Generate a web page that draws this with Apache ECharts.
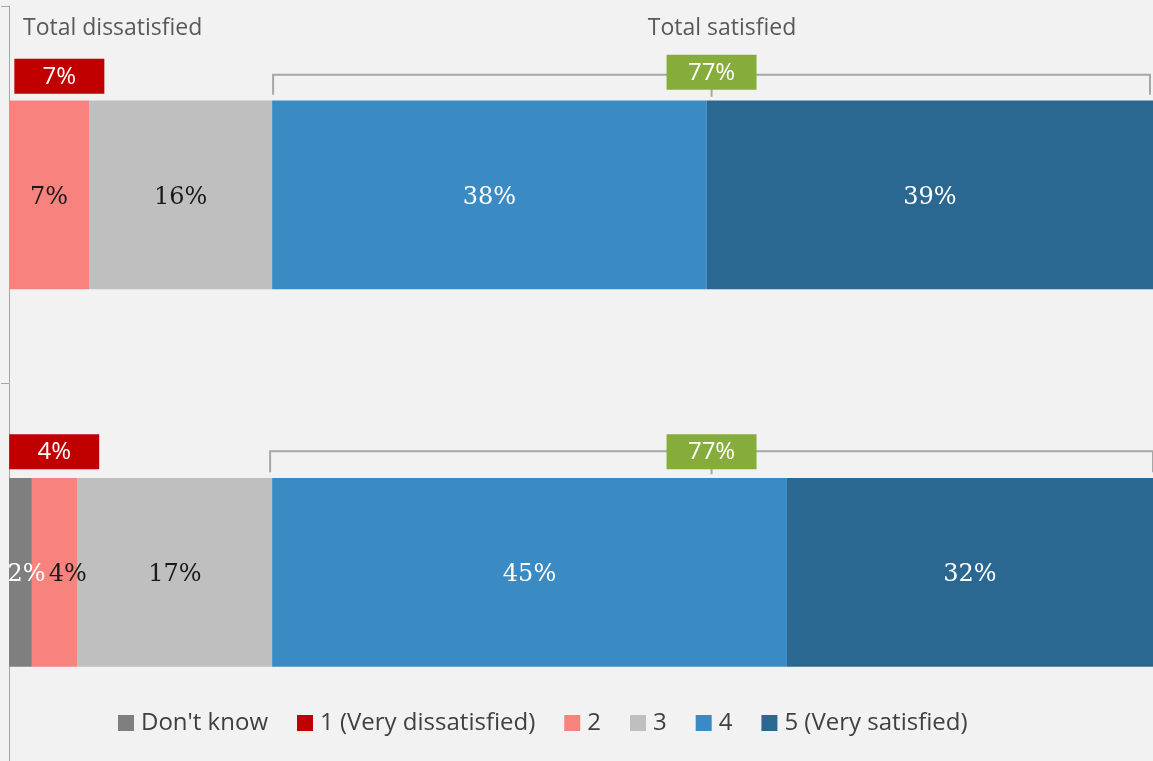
<!DOCTYPE html>
<html>
<head>
<meta charset="utf-8">
<script src="https://cdn.jsdelivr.net/npm/echarts@6/dist/echarts.min.js"></script>
<style>
html,body{margin:0;padding:0;background:#f2f2f2;}
#chart{width:1153px;height:761px;}
</style>
</head>
<body>
<div id="chart"></div>
<script>
// ---- data ----
const categories = ['Row 1', 'Row 2'];
const seriesNames = ["Don't know", '1 (Very dissatisfied)', '2', '3', '4', '5 (Very satisfied)'];
const dontKnow = [null, 2];
const veryDissatisfied = [null, null];
const two = [7, 4];
const three = [16, 17];
const four = [38, 45];
const five = [39, 32];
const dissatisfiedTotals = [7, 4];   // "Total dissatisfied" boxes
const satisfiedTotals = [77, 77];    // "Total satisfied" boxes
const headerLabels = ['Total dissatisfied', 'Total satisfied'];

// ---- styles ----
const colors = ['#7f7f7f', '#c00000', '#f8837e', '#bfbfbf', '#3a8bc3', '#2a6892'];
const labelColors = ['#ffffff', '#ffffff', '#1a1a1a', '#1a1a1a', '#ffffff', '#ffffff'];
const serif = '"DejaVu Serif", "Liberation Serif", serif';
const sans = '"Open Sans", "Noto Sans", sans-serif';

const values = [dontKnow, veryDissatisfied, two, three, four, five];
// per-row label offsets for narrow segments (layout only)
const labelOffsets = {0: {1: [6, 3]}, 2: {1: [13, 3]}};

const chart = echarts.init(document.getElementById('chart'));
const series = seriesNames.map((name, i) => ({
  name: name,
  type: 'bar',
  stack: 'total',
  barWidth: '50%',
  itemStyle: {color: colors[i]},
  label: {
    show: true,
    position: 'inside',
    offset: [0, 3],
    formatter: p => (p.value == null ? '' : p.value + '%'),
    color: labelColors[i],
    fontFamily: serif,
    fontSize: 24
  },
  data: values[i].map((v, j) => {
    const o = labelOffsets[i] && labelOffsets[i][j];
    return o ? {value: v, label: {offset: o}} : v;
  })
}));

chart.setOption({
  backgroundColor: '#f2f2f2',
  animation: false,
  grid: {left: 9, right: 0, top: 6, bottom: -5, containLabel: false},
  xAxis: {type: 'value', min: 0, max: 100, show: false},
  yAxis: {
    type: 'category',
    data: categories,
    inverse: true,
    axisLine: {show: true, lineStyle: {color: '#a6a6a6', width: 1}},
    axisTick: {show: true, length: 8, lineStyle: {color: '#a6a6a6'}},
    axisLabel: {show: false}
  },
  legend: {
    data: seriesNames,
    left: 113,
    top: 706,
    icon: 'rect',
    itemWidth: 16,
    itemHeight: 16,
    itemGap: 29,
    textStyle: {fontFamily: sans, fontSize: 24, color: '#404040', padding: [0, 0, 0, 2]}
  },
  series: series
});

// ---- annotations positioned through the axis scales ----
function px(v, row) { return chart.convertToPixel({gridIndex: 0}, [v, categories[row]]); }
const graphics = [];
const barHalf = 95;
const dissAnchor = [4.4, 3.95];   // box center in axis units (layout)
categories.forEach((c, row) => {
  const cy = px(0, row)[1];
  const barTop = cy - barHalf;
  // satisfied bracket from start of "4" to end of "5"
  const start = values.slice(0, 4).reduce((s, a) => s + (a[row] || 0), 0);
  const end = start + four[row] + five[row];
  const x1 = px(start, row)[0] + (row === 0 ? 1 : -2);
  const x2 = Math.min(px(end, row)[0] - 3 + row * 6, 1153);
  const by = barTop - 25 - row;
  const xm = (x1 + x2) / 2;
  graphics.push({type: 'polyline', shape: {points: [[x1, barTop - 5], [x1, by], [x2, by], [x2, barTop - 5]]},
    style: {stroke: '#a6a6a6', lineWidth: 2, fill: null}, z: 10});
  graphics.push({type: 'line', shape: {x1: xm, y1: by, x2: xm, y2: barTop - 3},
    style: {stroke: '#a6a6a6', lineWidth: 2}, z: 10});
  const gy = barTop - 45 + row * 2;
  graphics.push({type: 'rect', shape: {x: xm - 45, y: gy, width: 90, height: 35},
    style: {fill: '#86ac3c'}, z: 11});
  graphics.push({type: 'text', x: xm, y: gy + 18,
    style: {text: satisfiedTotals[row] + '%', fill: '#ffffff', font: '24px ' + sans, align: 'center', verticalAlign: 'middle'}, z: 12});
  // dissatisfied box
  const dx = px(dissAnchor[row], row)[0];
  const ry = barTop - 41 - row * 2;
  graphics.push({type: 'rect', shape: {x: dx - 45, y: ry, width: 90, height: 35},
    style: {fill: '#c00000'}, z: 11});
  graphics.push({type: 'text', x: dx, y: ry + 18,
    style: {text: dissatisfiedTotals[row] + '%', fill: '#ffffff', font: '24px ' + sans, align: 'center', verticalAlign: 'middle'}, z: 12});
});
graphics.push({type: 'text', x: 23, y: 28,
  style: {text: headerLabels[0], fill: '#595959', font: '23px ' + sans, align: 'left', verticalAlign: 'middle'}});
graphics.push({type: 'text', x: 722, y: 28,
  style: {text: headerLabels[1], fill: '#595959', font: '23px ' + sans, align: 'center', verticalAlign: 'middle'}});
chart.setOption({graphic: graphics});
</script>
</body>
</html>
